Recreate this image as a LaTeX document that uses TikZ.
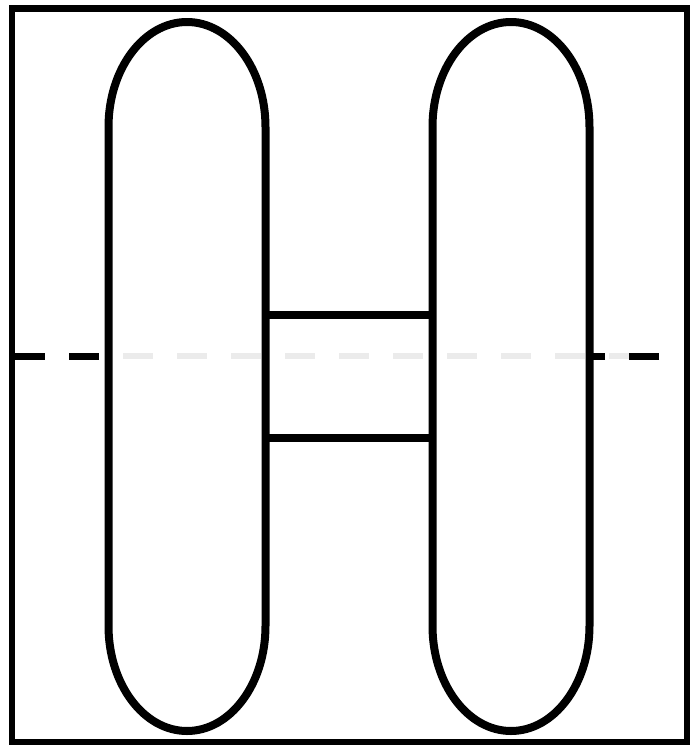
\documentclass[tikz,border=0pt]{standalone}
\usetikzlibrary{calc}

\begin{document}
\begin{tikzpicture}[x=1pt,y=-1pt,line width=8pt]
\def\rx{78.5}
\def\ry{105}
\tikzset{cut/.style={dash pattern=on 30pt off 24pt,line width=7pt}}
\useasboundingbox (0,0) rectangle (695,745);
\node[draw,line width=6.5pt,inner sep=0pt,minimum width=675pt,minimum height=734pt] (frame) at (349.5,375.5) {};

% cut line
\coordinate (c0) at (15,356);
\coordinate (c1) at (659,356);
\coordinate (m) at (337,356);
\draw[cut,line width=6pt,black!8] (c0) -- (c1);
\begin{scope}
\clip (0,0) rectangle (108.5,745) (590.5,0) rectangle (695,745);
\draw[cut] (c0) -- (m);
\draw[cut] (c1) -- (m);
\end{scope}

% left and right tubes
\coordinate (lt) at (108.5,127);
\coordinate (rt) at (432.5,127);
\draw (lt) arc[start angle=180,end angle=360,x radius=\rx,y radius=\ry] -- ++(0,499) arc[start angle=0,end angle=180,x radius=\rx,y radius=\ry] -- cycle;
\draw (rt) arc[start angle=180,end angle=360,x radius=\rx,y radius=\ry] -- ++(0,499) arc[start angle=0,end angle=180,x radius=\rx,y radius=\ry] -- cycle;

% bridge
\coordinate (a1) at (265.5,315);
\coordinate (b1) at (432.5,315);
\coordinate (a2) at (265.5,438);
\coordinate (b2) at (432.5,438);
\draw (a1) -- (b1);
\draw (a2) -- (b2);
\end{tikzpicture}
\end{document}
